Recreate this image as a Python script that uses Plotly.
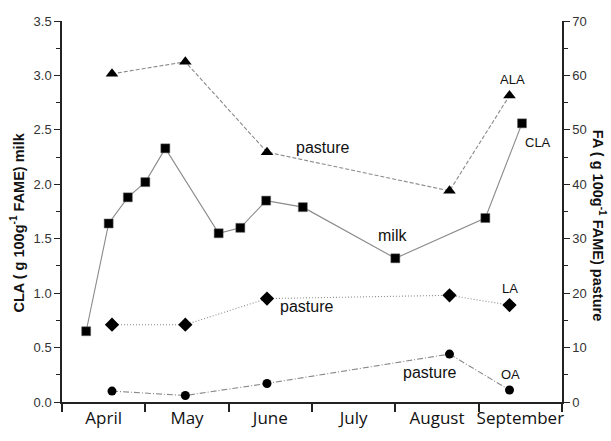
import plotly.graph_objects as go

# Month axis: each month occupies one unit between integer ticks
months = ["April", "May", "June", "July", "August", "September"]
month_centres = [0.5, 1.5, 2.5, 3.5, 4.5, 5.5]
month_bounds = [0, 1, 2, 3, 4, 5, 6]

# CLA in milk (g 100g-1 FAME), left axis
milk_x = [0.29, 0.56, 0.79, 1.00, 1.24, 1.88, 2.14, 2.45, 2.89, 4.00, 5.08, 5.52]
milk_cla = [0.65, 1.64, 1.88, 2.02, 2.33, 1.55, 1.60, 1.85, 1.79, 1.32, 1.69, 2.56]

# Pasture fatty acids (g 100g-1 FAME), right axis
pasture_x = [0.60, 1.48, 2.46, 4.65, 5.37]
pasture_ala = [60.3, 62.5, 45.9, 38.8, 56.3]
pasture_la = [14.2, 14.2, 19.0, 19.6, 17.8]
pasture_oa = [2.0, 1.2, 3.4, 8.8, 2.2]

LINE = "#8a8a8a"
INK = "#222222"

fig = go.Figure()

fig.add_trace(go.Scatter(
    x=milk_x, y=milk_cla, mode="lines+markers", name="CLA milk",
    line=dict(color=LINE, width=1.1, dash="solid"),
    marker=dict(symbol="square", size=9, color="black",
                line=dict(color="#666666", width=0.5)),
    yaxis="y"))
fig.add_trace(go.Scatter(
    x=pasture_x, y=pasture_ala, mode="lines+markers", name="ALA",
    line=dict(color=LINE, width=1.1, dash="4px,2px"),
    marker=dict(symbol="triangle-up", size=11, color="black"),
    yaxis="y2"))
fig.add_trace(go.Scatter(
    x=pasture_x, y=pasture_la, mode="lines+markers", name="LA",
    line=dict(color=LINE, width=1.1, dash="1px,2px"),
    marker=dict(symbol="diamond", size=11, color="black"),
    yaxis="y2"))
fig.add_trace(go.Scatter(
    x=pasture_x, y=pasture_oa, mode="lines+markers", name="OA",
    line=dict(color=LINE, width=1.1, dash="6px,2px,1px,2px"),
    marker=dict(symbol="circle", size=9, color="black"),
    yaxis="y2"))

big = dict(family="Liberation Sans, Arial, sans-serif", size=16, color="#111111")
small = dict(family="Liberation Sans, Arial, sans-serif", size=13, color="#111111")

labels = [
    ("pasture", 3.12, 2.34, big),
    ("milk", 3.96, 1.53, big),
    ("pasture", 2.93, 0.875, big),
    ("pasture", 4.41, 0.27, big),
    ("ALA", 5.40, 2.96, small),
    ("CLA", 5.71, 2.38, small),
    ("LA", 5.38, 1.045, small),
    ("OA", 5.38, 0.25, small),
]
annotations = [
    dict(text=t, x=x, y=y, xref="x", yref="y", showarrow=False, font=f)
    for t, x, y, f in labels
]

title_font = dict(family="Liberation Sans, Arial, sans-serif", size=14.5, color="#111111")
annotations.append(dict(
    text="<b>CLA ( g 100g<sup>-1</sup> FAME) milk</b>",
    x=-0.09, y=0.471, xref="paper", yref="paper", xanchor="center", yanchor="middle",
    showarrow=False, textangle=-90, font=title_font))
annotations.append(dict(
    text="<b>FA ( g 100g<sup>-1</sup> FAME) pasture</b>",
    x=1.074, y=0.465, xref="paper", yref="paper", xanchor="center", yanchor="middle",
    showarrow=False, textangle=90, font=title_font))

tick_font = dict(family="Liberation Sans, Arial, sans-serif", size=13, color="#333333")

fig.update_layout(
    width=611, height=441,
    margin=dict(l=62, r=49, t=21, b=39),
    plot_bgcolor="white", paper_bgcolor="white",
    showlegend=False,
    annotations=annotations,
    xaxis=dict(
        range=[0, 6], tickmode="array", tickvals=month_centres, ticktext=months,
        ticks="", showgrid=False, zeroline=False,
        showline=True, linecolor=INK, linewidth=1.5,
        tickfont=dict(family="Open Sans, sans-serif", size=17, color="#111111"),
        minor=dict(tickmode="array", tickvals=month_bounds, ticks="outside",
                   ticklen=8, tickwidth=1.5, tickcolor=INK, showgrid=False),
    ),
    yaxis=dict(
        range=[0, 3.5], dtick=0.5, tick0=0, tickformat=".1f",
        ticks="outside", ticklen=6, tickwidth=1.3, tickcolor=INK,
        showgrid=False, zeroline=False,
        showline=True, linecolor=INK, linewidth=1.5,
        tickfont=tick_font,
        minor=dict(dtick=0.25, ticks="outside", ticklen=4, tickwidth=1.3,
                   tickcolor=INK, showgrid=False),
    ),
    yaxis2=dict(
        range=[0, 70], dtick=10, tick0=0, overlaying="y", side="right",
        ticks="outside", ticklen=6, tickwidth=1.3, tickcolor=INK,
        showgrid=False, zeroline=False,
        showline=True, linecolor=INK, linewidth=1.5,
        tickfont=tick_font,
        minor=dict(dtick=5, ticks="outside", ticklen=4, tickwidth=1.3,
                   tickcolor=INK, showgrid=False),
    ),
)

fig.write_html("out.html")
